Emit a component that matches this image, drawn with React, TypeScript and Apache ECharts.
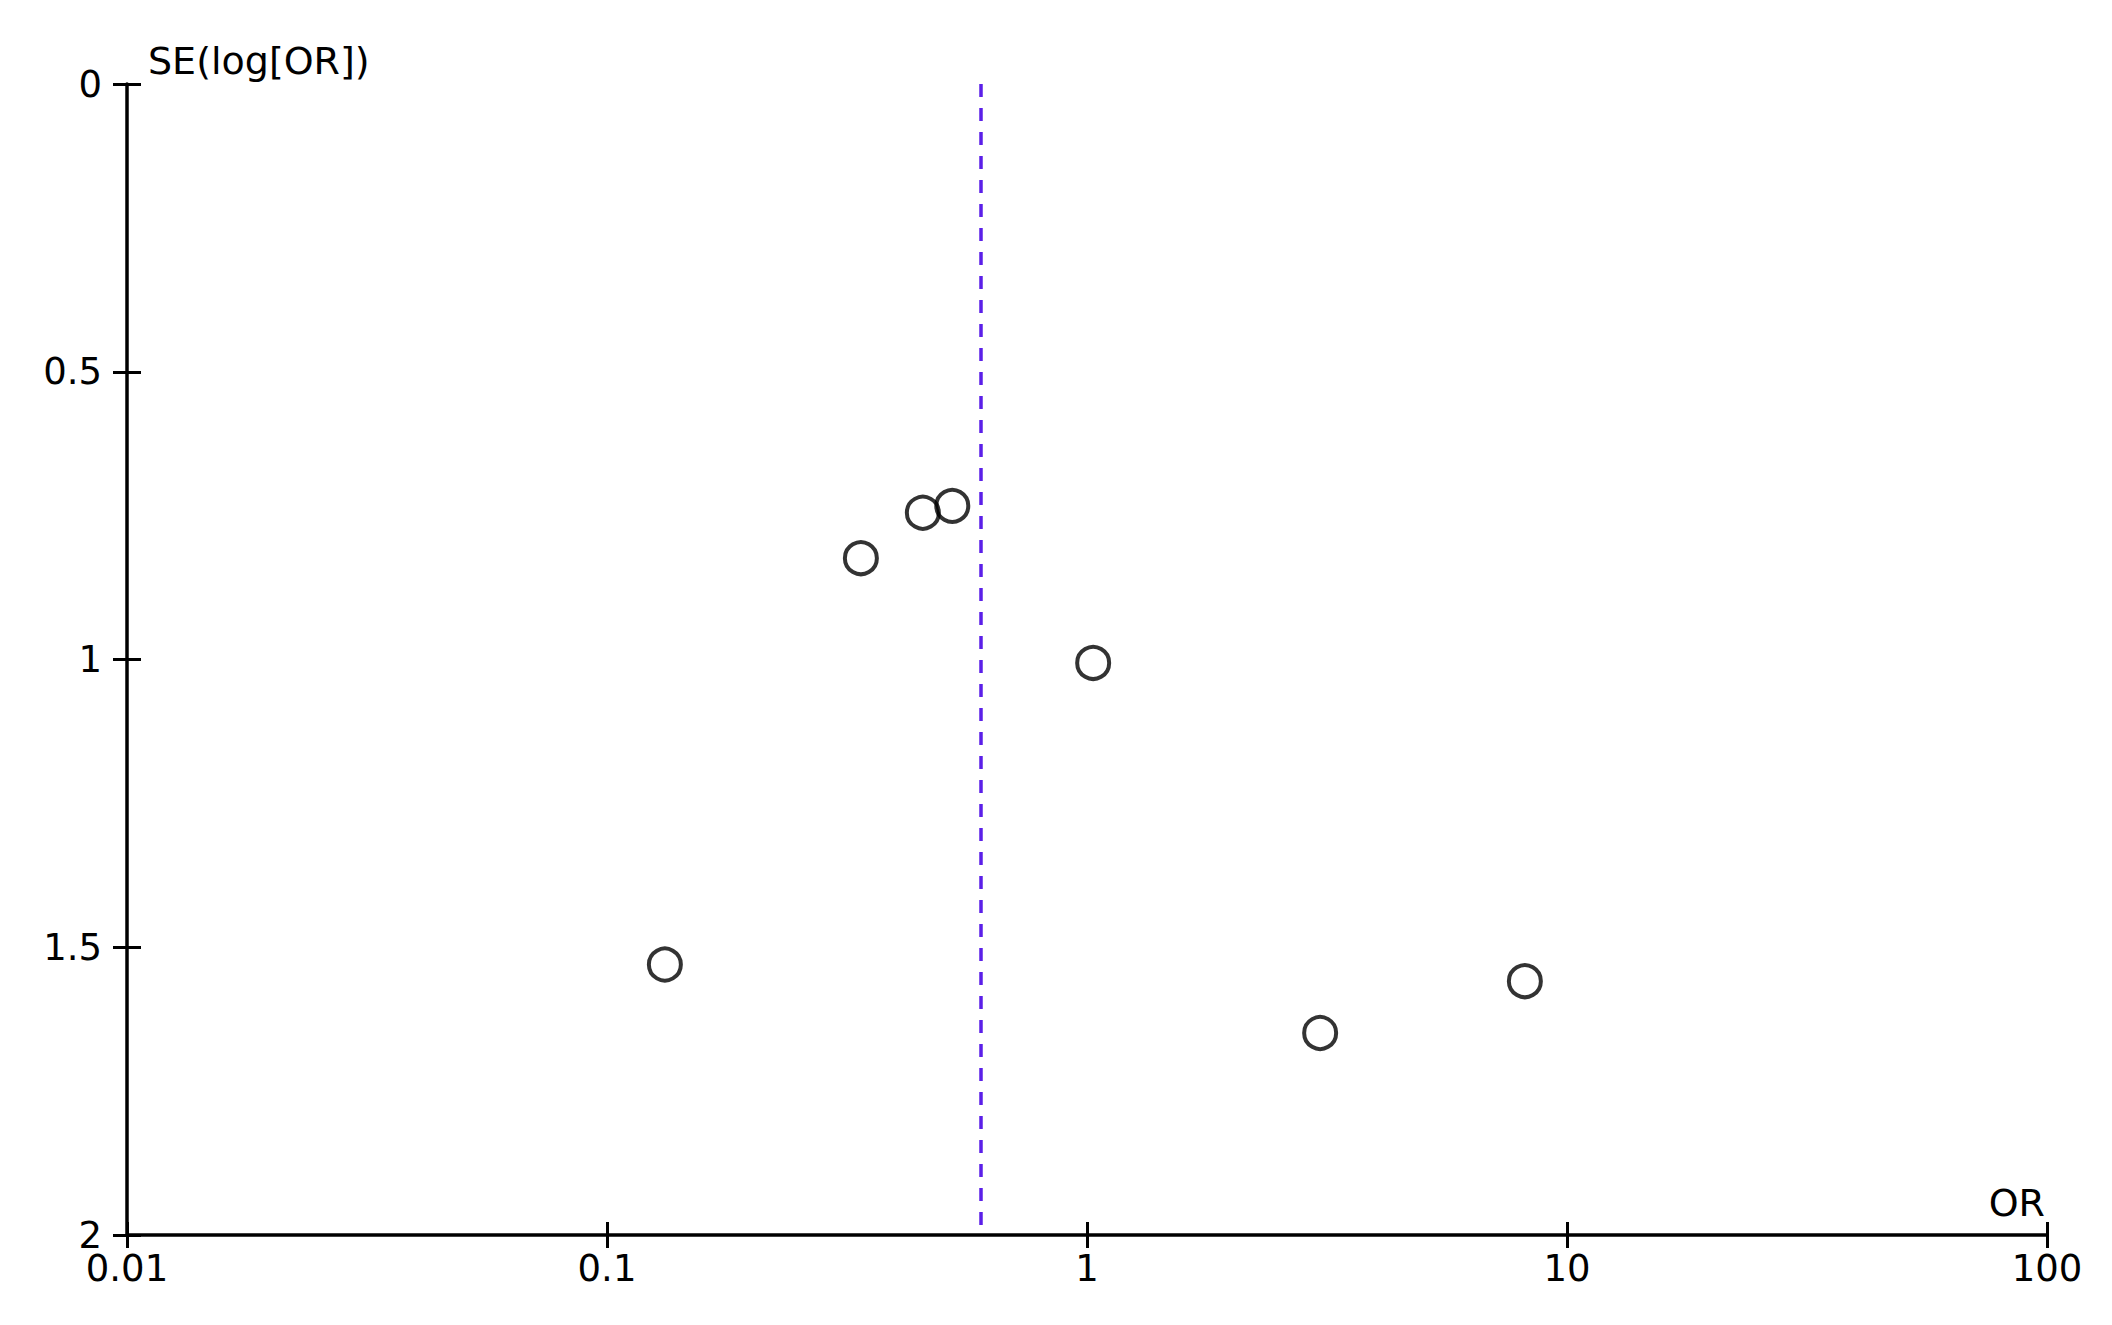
import React, { useEffect, useRef } from "react";
import * as echarts from "echarts";

const orValues = [0.132, 0.338, 0.455, 0.524, 1.03, 3.06, 8.17];
const seValues = [1.53, 0.824, 0.745, 0.733, 1.006, 1.649, 1.559];
const pooledOR = 0.604;
const xMin = 0.01;
const xMax = 100;
const yMin = 0;
const yMax = 2;
const yInterval = 0.5;
const xAxisName = "OR";
const yAxisName = "SE(log[OR])";

const FONT = "DejaVu Sans";
const AXIS_COLOR = "#000";
const FS = 37;

export default function App() {
  const ref = useRef<HTMLDivElement>(null);
  useEffect(() => {
    const chart = echarts.init(ref.current!, null, { renderer: "svg" });
    const gridBox = { left: 127, top: 84, right: 65, bottom: 90 };
    const points = orValues.map((v, i) => [v, seValues[i]]);
    chart.setOption({
      animation: false,
      backgroundColor: "#ffffff",
      grid: [
        { ...gridBox, containLabel: false },
        { ...gridBox, containLabel: false },
      ],
      xAxis: [
        {
          type: "log",
          logBase: 10,
          min: xMin,
          max: xMax,
          gridIndex: 0,
          position: "bottom",
          axisLine: { show: true, onZero: false, lineStyle: { color: AXIS_COLOR, width: 3.5 } },
          axisTick: { show: true, inside: false, length: 13, lineStyle: { color: AXIS_COLOR, width: 3 } },
          axisLabel: {
            show: true,
            margin: 15,
            color: "#000",
            fontFamily: FONT,
            fontSize: FS,
            formatter: (v: number) => String(+v.toPrecision(6)),
          },
          splitLine: { show: false },
          minorTick: { show: false },
        },
        {
          type: "log",
          logBase: 10,
          min: xMin,
          max: xMax,
          gridIndex: 1,
          position: "bottom",
          axisLine: { show: false, onZero: false },
          axisTick: { show: true, inside: true, length: 13, lineStyle: { color: AXIS_COLOR, width: 3 } },
          axisLabel: { show: false },
          splitLine: { show: false },
        },
      ],
      yAxis: [
        {
          type: "value",
          min: yMin,
          max: yMax,
          interval: yInterval,
          inverse: true,
          gridIndex: 0,
          position: "left",
          axisLine: { show: true, onZero: false, lineStyle: { color: AXIS_COLOR, width: 3.5 } },
          axisTick: { show: true, inside: false, length: 14, lineStyle: { color: AXIS_COLOR, width: 3 } },
          axisLabel: {
            show: true,
            margin: 25,
            color: "#000",
            fontFamily: FONT,
            fontSize: FS,
          },
          splitLine: { show: false },
        },
        {
          type: "value",
          min: yMin,
          max: yMax,
          interval: yInterval,
          inverse: true,
          gridIndex: 1,
          position: "left",
          axisLine: { show: false, onZero: false },
          axisTick: { show: true, inside: true, length: 14, lineStyle: { color: AXIS_COLOR, width: 3 } },
          axisLabel: { show: false },
          splitLine: { show: false },
        },
      ],
      graphic: [
        {
          type: "text",
          left: 148,
          top: 42,
          style: { text: yAxisName, fontFamily: FONT, fontSize: 38, fill: "#000" },
        },
        {
          type: "text",
          right: 2112 - 2045,
          top: 1184,
          style: { text: xAxisName, fontFamily: FONT, fontSize: 38, fill: "#000" },
        },
      ],
      series: [
        {
          type: "scatter",
          xAxisIndex: 0,
          yAxisIndex: 0,
          data: points,
          symbol: "circle",
          symbolSize: 32,
          itemStyle: { color: "rgba(255,255,255,0)", borderColor: "#000", borderWidth: 4 },
          emphasis: { disabled: true },
          markLine: {
            silent: true,
            symbol: ["none", "none"],
            label: { show: false },
            lineStyle: { color: "#5b1fe8", width: 3.5, type: [13, 11] },
            data: [{ xAxis: pooledOR }],
          },
          z: 3,
        },
      ],
    });
    return () => chart.dispose();
  }, []);
  return (
    <div
      ref={ref}
      style={{ position: "fixed", left: 0, top: 0, width: 2112, height: 1325 }}
    />
  );
}
